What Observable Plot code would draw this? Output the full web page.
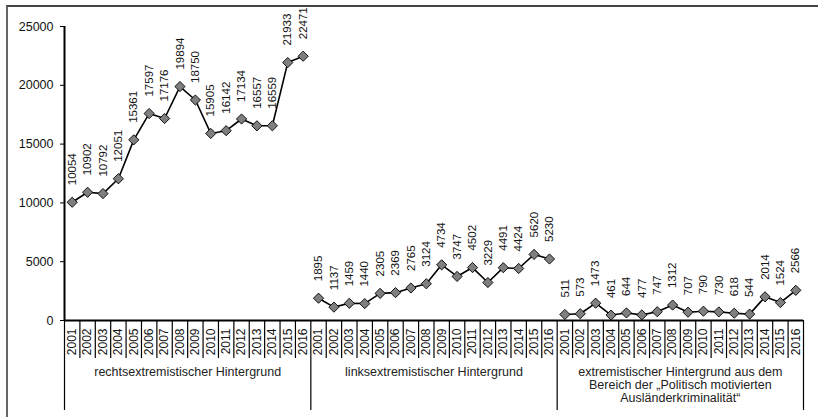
<!DOCTYPE html>
<html>
<head>
<meta charset="utf-8">
<script src="https://cdn.jsdelivr.net/npm/d3@7"></script>
<script src="https://cdn.jsdelivr.net/npm/@observablehq/plot@0.6"></script>
<style>
  html, body { margin: 0; padding: 0; background: #fff; }
  #wrap { position: relative; width: 818px; height: 417px; overflow: hidden; }
  #border { position: absolute; left: 6px; top: 5px; right: -4px; bottom: -4px;
            border-top: 2px solid #444; border-left: 2px solid #666; pointer-events: none; }
</style>
</head>
<body>
<div id="wrap"><div id="border"></div></div>
<script>
const groups = [
  "rechtsextremistischer Hintergrund",
  "linksextremistischer Hintergrund",
  "extremistischer Hintergrund aus dem\nBereich der „Politisch motivierten\nAusländerkriminalität“"
];
const years = ["2001","2002","2003","2004","2005","2006","2007","2008","2009","2010","2011","2012","2013","2014","2015","2016"];
const rechts = [10054,10902,10792,12051,15361,17597,17176,19894,18750,15905,16142,17134,16557,16559,21933,22471];
const links = [1895,1137,1459,1440,2305,2369,2765,3124,4734,3747,4502,3229,4491,4424,5620,5230];
const auslaender = [511,573,1473,461,644,477,747,1312,707,790,730,618,544,2014,1524,2566];
const yTicks = [0,5000,10000,15000,20000,25000];

const series = [rechts, links, auslaender];
const data = [];
series.forEach((vals, g) => {
  vals.forEach((v, i) => {
    data.push({group: g, year: years[i], idx: g * years.length + i, value: v});
  });
});
const nCat = data.length;
const boundaries = d3.range(0, nCat + 1);
const groupBounds = boundaries.filter(b => b % years.length === 0);
const minorBounds = boundaries.filter(b => b % years.length !== 0);
const groupCenters = groups.map((label, g) => ({label, x: g * years.length + years.length / 2}));

// pixel-to-data helper for extents below the baseline (y scale: 25000 over 294px)
const unit = 25000 / 294;

const chart = Plot.plot({
  width: 818,
  height: 417,
  marginLeft: 64,
  marginRight: 15,
  marginTop: 26,
  marginBottom: 97,
  style: {fontFamily: "'Liberation Sans', Arial, sans-serif", color: "#111", background: "transparent", overflow: "visible"},
  x: {type: "linear", domain: [0, nCat], axis: null},
  y: {domain: [0, 25000], axis: null},
  marks: [
    Plot.axisY({ticks: yTicks, label: null, tickSize: 4, tickPadding: 7, fontSize: 12.5, tickFormat: d => String(d), stroke: "#000"}),
    Plot.ruleX(minorBounds, {x: d => d, y1: 0, y2: -38 * unit, stroke: "#000", strokeWidth: 1.2}),
    Plot.ruleX(groupBounds, {x: d => d, y1: 0, y2: -90 * unit, stroke: "#000", strokeWidth: 1.2}),
    Plot.ruleX([0], {y1: 0, y2: 25000, stroke: "#000", strokeWidth: 2}),
    Plot.ruleY([0], {x1: 0, x2: nCat, stroke: "#000", strokeWidth: 2}),
    Plot.text(data, {x: d => d.idx + 0.5, y: 0, text: "year", rotate: -90, textAnchor: "end", dy: 8, fontSize: 12, fill: "#111"}),
    Plot.text(groupCenters, {x: "x", y: -46 * unit, text: "label", lineAnchor: "top", lineHeight: 1.05, fontSize: 12.5, fill: "#222"}),
    Plot.line(data, {x: d => d.idx + 0.5, y: "value", z: "group", stroke: "#000", strokeWidth: 1.6}),
    Plot.dot(data, {x: d => d.idx + 0.5, y: "value", symbol: "diamond2", r: 4.6, fill: "#7f7f7f", stroke: "#000", strokeWidth: 0.9}),
    Plot.text(data, {x: d => d.idx + 0.5, y: "value", text: d => String(d.value), rotate: -90, textAnchor: "start", dy: -17, fontSize: 11.5, fill: "#111"})
  ]
});
document.getElementById("wrap").insertBefore(chart, document.getElementById("border"));
</script>
</body>
</html>
